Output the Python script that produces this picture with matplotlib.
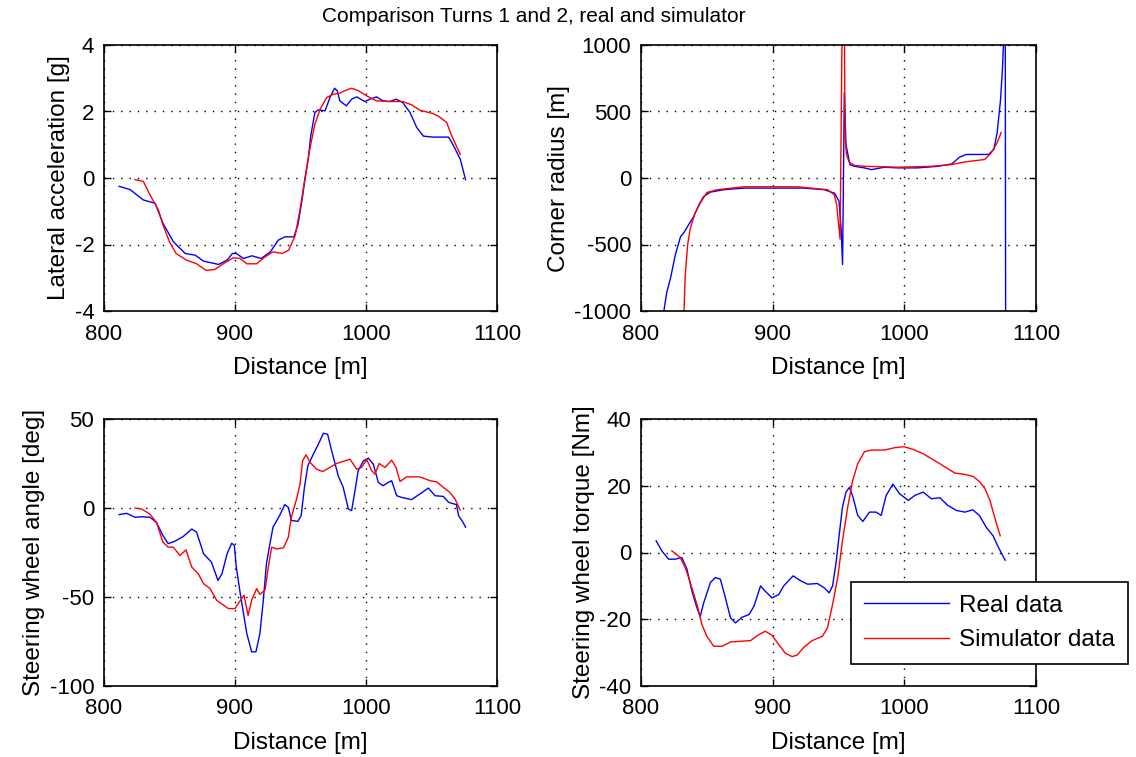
import numpy as np
import matplotlib
matplotlib.use('Agg')
import matplotlib.pyplot as plt

plt.rcParams['font.family'] = ['Liberation Sans', 'DejaVu Sans']
plt.rcParams['axes.unicode_minus'] = False

# lateral acceleration [g]
lat_real_x = [811.5, 820, 830, 839, 845, 853, 862, 869.5, 876, 887.5, 894, 898, 901, 906.5, 913, 920, 927, 933,
              938, 945, 948, 951, 953.4, 956, 957.8, 961, 963.6, 968.7, 972.5, 976, 978, 980, 985, 989, 993, 999,
              1003, 1008, 1013, 1018, 1023, 1028, 1033.6, 1038.7, 1043.8, 1051, 1063, 1067, 1072, 1076]
lat_real_y = [-0.25, -0.35, -0.66, -0.76, -1.36, -1.92, -2.27, -2.32, -2.5, -2.6, -2.47, -2.27, -2.27, -2.42, -2.34,
              -2.42, -2.22, -1.87, -1.77, -1.77, -1.41, -0.71, -0.05, 0.6, 1.26, 1.97, 2.05, 2.02, 2.42, 2.7, 2.63,
              2.32, 2.17, 2.37, 2.44, 2.3, 2.37, 2.44, 2.32, 2.3, 2.37, 2.27, 1.97, 1.52, 1.26, 1.23, 1.23, 0.96,
              0.56, -0.05]
lat_sim_x = [823.7, 830, 835, 841.5, 845, 850, 855, 863, 870.7, 878, 884.7, 891, 898.7, 904, 909, 916.5, 923, 929,
             936, 941, 946, 949.6, 953.4, 957.3, 961, 965, 970, 975, 980, 984, 989, 994, 1000.5, 1008, 1018, 1028,
             1035, 1041, 1051, 1056, 1061.6, 1065, 1069, 1072]
lat_sim_y = [-0.05, -0.1, -0.5, -0.96, -1.41, -1.92, -2.27, -2.47, -2.58, -2.78, -2.75, -2.58, -2.4, -2.42, -2.58,
             -2.58, -2.37, -2.22, -2.27, -2.17, -1.72, -0.96, 0.0, 0.91, 1.62, 2.07, 2.42, 2.52, 2.55, 2.63, 2.7,
             2.63, 2.47, 2.32, 2.3, 2.3, 2.2, 2.04, 1.94, 1.84, 1.67, 1.31, 0.96, 0.71]

# corner radius [m]
rad_real_x = [815, 819.6, 822.6, 826, 830, 833, 836, 840, 844, 847.6, 852.7, 863, 878, 898, 924, 939, 947, 950.4,
              952, 953.1, 954.4, 955.7, 958.7, 962, 969.7, 975, 985, 995, 1010, 1025.7, 1036, 1042, 1047, 1064,
              1068, 1070.5, 1073, 1074.6, 1076, 1076.6, 1077]
rad_real_y = [-1150, -859, -745, -580, -442, -404, -354, -290, -202, -139, -106, -88, -76, -76, -76, -88, -114,
              -175, -380, -650, 640, 250, 100, 88, 76, 63, 81, 76, 76, 88, 106, 157, 177, 177, 215, 341, 581, 833,
              1200, 1500, -1500]
rad_sim_x = [832, 833.6, 835.4, 837.4, 841, 845, 850, 857.8, 878, 919, 941.7, 946.8, 948.6, 951.2, 953, 954.3,
             955, 956, 958, 962, 969.7, 995, 1020.6, 1036, 1046, 1061, 1066, 1070.5, 1073.5]
rad_sim_y = [-1200, -732, -505, -379, -265, -189, -109, -88, -66, -66, -88, -126, -200, -460, 1400, 1400, 300, 180,
             120, 95, 88, 81, 88, 101, 121, 139, 189, 265, 341]

# steering wheel angle [deg]
ang_real_x = [811.5, 817.3, 823.7, 828.8, 835, 840, 845, 849, 854, 860.5, 867, 870.7, 876, 882, 884.7, 887, 890,
              894, 897.5, 899.5, 901, 904, 909, 912.7, 916, 919, 921.6, 924, 926.7, 929, 934, 938, 940.7, 943, 948,
              950.5, 953, 955.6, 959.8, 963.6, 967.5, 970.7, 973.8, 978.8, 982.6, 986.5, 989, 991.6, 994, 998,
              1001.8, 1005.6, 1009.4, 1013, 1017, 1019.6, 1023.4, 1027, 1034.8, 1041, 1047.6, 1052.7, 1059, 1063,
              1069, 1070.7, 1074, 1076]
ang_real_y = [-3.7, -3, -5.2, -4.9, -5.2, -8, -15.5, -20, -18.7, -16, -11.8, -13.6, -25.7, -30.4, -36, -40.7, -37,
              -25.7, -19.8, -21, -33.2, -48, -70.5, -80.8, -80.8, -70.5, -51.9, -31.3, -20, -10.8, -4.3, 1.9, 0.4,
              -7, -7.5, -4.3, 11.6, 23.7, 30.2, 35.8, 42, 41.4, 32.1, 18.1, 11.6, -0.5, -1.5, 9.7, 20.9, 26.5, 28,
              24.6, 14.4, 12.5, 14.4, 15.3, 6.9, 6, 4.7, 7.8, 11.2, 6.9, 6.5, 3.2, 1.9, -4.3, -8, -10.8]
ang_sim_x = [823.7, 828.8, 835, 840, 845, 849, 852.9, 858, 862.6, 867, 872, 876, 881, 886, 895, 900, 902.5, 905,
             906.9, 910, 912.7, 916.5, 919, 923, 925.4, 928, 931.8, 937, 940.7, 943, 947, 949.6, 951.6, 954.2,
             957.3, 962.3, 967, 972.5, 977.6, 982.6, 987.8, 992.9, 996.7, 1000.5, 1004.3, 1006.9, 1010, 1014.5,
             1019.6, 1022.9, 1026, 1031, 1041, 1049, 1054, 1059, 1064, 1068, 1071.8]
ang_sim_y = [0, -0.6, -3.4, -8, -19.2, -22, -22, -26.7, -23.5, -33.2, -37, -42.5, -45.3, -51.9, -56.5, -56.5,
             -53.7, -51, -49, -60.4, -51.9, -45.3, -48.5, -46, -33.2, -22, -23, -22.4, -16.4, -5.2, 5, 13.4, 26.5,
             29.9, 25.6, 21.8, 20.5, 22.8, 25, 26.2, 27.4, 21.8, 22.8, 27.4, 20.9, 19, 25, 22.8, 26.9, 22.8, 14.9,
             17.5, 17.5, 15.3, 14.7, 11.6, 8.8, 5, -1.1]

# steering wheel torque [Nm]
trq_real_x = [811.5, 815.8, 820.9, 826, 831, 834.9, 838.7, 842.5, 845, 847.6, 852.7, 856.5, 860.3, 864.1, 868,
              871.8, 876.8, 882, 885.8, 890.8, 894.4, 899.5, 904.6, 908.4, 915.5, 921.4, 926.5, 934, 939.2, 943,
              945.5, 948, 950.6, 953, 955.7, 958.3, 961, 964.6, 968.5, 973.5, 978.6, 982.4, 986.2, 991.3, 996.4,
              1003, 1008, 1014.3, 1020.6, 1027, 1033, 1039.6, 1046, 1052, 1057, 1062.3, 1067.4, 1071.5, 1076.6]
trq_real_y = [3.5, 0.5, -2, -2, -1.5, -5, -11.6, -16.6, -19.1, -15.1, -9, -7.5, -8, -13.6, -19.6, -21.1, -19.4,
              -18.6, -16.1, -10, -11.6, -13.6, -12.6, -10, -7, -8.5, -9.5, -9.3, -10.6, -12.1, -10, -3.5, 5.5, 13.6,
              18.1, 19.5, 16.6, 11.1, 9.3, 12.1, 12.1, 11.1, 17.1, 20.5, 17.6, 15.6, 17.1, 18.1, 16.1, 16.4, 14.1,
              12.6, 12.1, 12.8, 11.1, 7.5, 5, 1.5, -2.3]
trq_sim_x = [823.4, 829.8, 833.6, 837.4, 842.5, 846.3, 850, 855.2, 861.6, 868, 875.6, 883.2, 889.5, 894.4, 899.5,
             904.6, 909.7, 914.8, 918.7, 923.7, 930, 937.8, 941.6, 945.5, 949.4, 953, 957, 960.8, 964.6, 969.7,
             974.8, 985, 992.6, 999.7, 1006.6, 1014.3, 1020.6, 1027, 1033, 1038.4, 1046, 1052.3, 1057.4, 1061.3,
             1065, 1069, 1072.8]
trq_sim_y = [0.5, -1.5, -4.5, -9, -15.6, -21.6, -25.1, -28.1, -28.1, -26.8, -26.6, -26.4, -24.6, -23.6, -24.8,
             -27.6, -30.2, -31.2, -30.7, -28.4, -26.4, -25.1, -22.6, -15.6, -7.5, 3.5, 13.6, 21.6, 26.6, 30.2, 30.7,
             30.7, 31.4, 31.7, 30.9, 29.6, 28.1, 26.6, 25.1, 23.8, 23.4, 22.8, 21.1, 19.1, 15.6, 10, 5]

panels = [
    (lat_real_x, lat_real_y, lat_sim_x, lat_sim_y, 'Lateral acceleration [g]', (-4, 4), [-4, -2, 0, 2, 4]),
    (rad_real_x, rad_real_y, rad_sim_x, rad_sim_y, 'Corner radius [m]', (-1000, 1000), [-1000, -500, 0, 500, 1000]),
    (ang_real_x, ang_real_y, ang_sim_x, ang_sim_y, 'Steering wheel angle [deg]', (-100, 50), [-100, -50, 0, 50]),
    (trq_real_x, trq_real_y, trq_sim_x, trq_sim_y, 'Steering wheel torque [Nm]', (-40, 40), [-40, -20, 0, 20, 40]),
]

W, H = 1136, 757
fig = plt.figure(figsize=(W / 100, H / 100), dpi=100)
boxes = [(104, 45, 393, 266), (641, 45, 395, 266), (104, 419, 393, 267), (641, 419, 395, 267)]

for (rx, ry, sx, sy, ylab, ylim, yt), (l, t, w, h) in zip(panels, boxes):
    ax = fig.add_axes([l / W, 1 - (t + h) / H, w / W, h / H])
    ax.plot(rx, ry, color='#0000ff', linewidth=1.0, label='Real data')
    ax.plot(sx, sy, color='#ff0000', linewidth=1.0, label='Simulator data')
    ax.set_xlim(800, 1100)
    ax.set_ylim(*ylim)
    ax.set_xticks([800, 900, 1000, 1100])
    ax.set_yticks(yt)
    ax.grid(True, color='black', linestyle=(0, (1, 5)), linewidth=1.0)
    ax.tick_params(direction='in', top=True, right=True, length=5, width=1, labelsize=16)
    ax.tick_params(axis='x', pad=9)
    ax.tick_params(axis='y', pad=7)
    for s in ax.spines.values():
        s.set_linewidth(1.2)
    ax.set_xlabel('Distance [m]', fontsize=17.5, labelpad=9)
    ax.set_ylabel(ylab, fontsize=17.5, labelpad=3)

leg = ax.legend(loc='upper left', bbox_to_anchor=(851 / W, 1 - 581.5 / H), bbox_transform=fig.transFigure,
                fontsize=17.5, fancybox=False, framealpha=1, edgecolor='black', borderaxespad=0,
                handlelength=3.5, handletextpad=0.4, borderpad=0.55, labelspacing=0.5)
leg.get_frame().set_linewidth(1.2)

fig.text(534 / W, 1 - 16 / H, 'Comparison Turns 1 and 2, real and simulator', ha='center', va='center', fontsize=15)

fig.savefig('out.png', dpi=100)
